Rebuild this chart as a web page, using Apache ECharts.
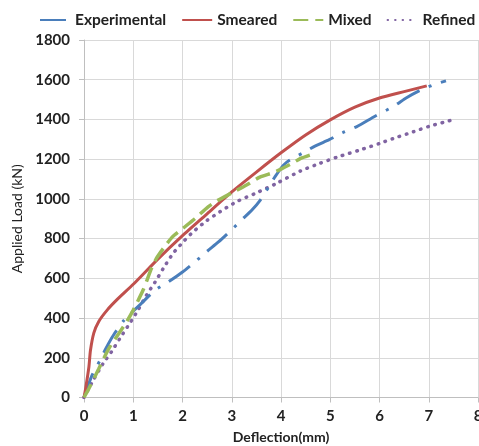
<!DOCTYPE html>
<html>
<head>
<meta charset="utf-8">
<script src="https://cdn.jsdelivr.net/npm/echarts@6/dist/echarts.min.js"></script>
<style>html,body{margin:0;padding:0;background:#fff}#c{width:479px;height:446px}</style>
</head>
<body>
<div id="c"></div>
<script>
const seriesNames = ['Experimental', 'Smeared', 'Mixed', 'Refined'];
const xTicks = [0, 1, 2, 3, 4, 5, 6, 7, 8];
const yTicks = [0, 200, 400, 600, 800, 1000, 1200, 1400, 1600, 1800];

const experimental = [[0,0],[0.16,110],[0.33,189],[0.45,250],[0.6,315],[0.8,385],[1.0,435],[1.17,475],[1.44,540],[1.72,583],[2.0,632],[2.26,684],[2.49,734],[2.73,783],[3.0,845],[3.2,894],[3.41,944],[3.58,994],[3.75,1060],[3.88,1112],[4.05,1170],[4.18,1196],[4.45,1232],[4.69,1266],[4.98,1298],[5.25,1333],[5.54,1364],[5.9,1415],[6.3,1468],[6.54,1508],[6.82,1546],[7.1,1575],[7.35,1594]];
const smeared = [[0,0],[0.03,40],[0.1,155],[0.13,235],[0.2,325],[0.3,383],[0.47,440],[0.68,495],[1.0,570],[1.5,697],[2.0,815],[2.5,925],[3.0,1035],[3.5,1135],[4.0,1232],[4.5,1322],[5.0,1398],[5.5,1462],[6.0,1508],[6.5,1540],[6.96,1569]];
const mixed = [[0,0],[0.1,45],[0.3,145],[0.5,245],[0.7,320],[0.85,375],[1.0,440],[1.2,541],[1.37,650],[1.47,700],[1.61,750],[1.8,810],[2.0,850],[2.25,900],[2.52,960],[2.7,990],[3.0,1030],[3.3,1070],[3.57,1110],[3.84,1132],[4.0,1150],[4.22,1178],[4.4,1204],[4.6,1222]];
const refined = [[0,0],[0.19,88],[0.39,172],[0.56,231],[0.73,298],[0.93,374],[1.1,441],[1.27,516],[1.44,580],[1.61,650],[1.81,726],[2.02,785],[2.22,835],[2.49,890],[2.76,935],[3.1,986],[3.5,1030],[3.91,1078],[4.39,1140],[4.79,1179],[5.16,1212],[5.6,1246],[6.01,1280],[6.35,1310],[6.69,1338],[7.03,1367],[7.43,1394]];

const colors = ['#4a7ebb', '#c0504d', '#9bbb59', '#8064a2'];
const dashes = [[26, 10, 3, 10], 'solid', [15, 7], [0.5, 7]];
const widths = [3, 3, 3.5, 3.5];
const dataSets = [experimental, smeared, mixed, refined];

const font = 'Lato, "Open Sans", sans-serif';
const chart = echarts.init(document.getElementById('c'), null, {renderer: 'canvas'});
chart.setOption({
  animation: false,
  backgroundColor: '#fff',
  grid: {left: 84, right: 1, top: 40, bottom: 48.5, containLabel: false, outerBoundsMode: 'none'},
  legend: {
    top: 12, left: 39, width: 440, padding: 0, itemWidth: 30, itemHeight: 12, itemGap: 15,
    itemStyle: {opacity: 0},
    textStyle: {fontFamily: font, fontWeight: 'bold', fontSize: 15.5, color: '#222'},
    data: seriesNames
  },
  xAxis: {
    type: 'value', min: xTicks[0], max: xTicks[xTicks.length - 1], interval: 1,
    name: 'Deflection(mm)', nameLocation: 'middle', nameGap: 33,
    nameTextStyle: {fontFamily: font, fontWeight: 'bold', fontSize: 14, color: '#222'},
    axisLine: {show: true, lineStyle: {color: '#bfbfbf', width: 1}},
    axisTick: {show: true, length: 5, lineStyle: {color: '#bfbfbf'}},
    axisLabel: {fontFamily: font, fontWeight: 'bold', fontSize: 15, color: '#222', margin: 11,
      formatter: v => String(v)},
    splitLine: {show: true, lineStyle: {color: '#d9d9d9', width: 1}}
  },
  yAxis: {
    type: 'value', min: yTicks[0], max: yTicks[yTicks.length - 1], interval: 200,
    name: 'Applied Load (kN)', nameLocation: 'middle', nameGap: 60, nameRotate: 90,
    nameTextStyle: {fontFamily: font, fontWeight: 'normal', fontSize: 14, color: '#222'},
    axisLine: {show: true, lineStyle: {color: '#bfbfbf', width: 1}},
    axisTick: {show: true, length: 5, lineStyle: {color: '#bfbfbf'}},
    axisLabel: {fontFamily: font, fontWeight: 'bold', fontSize: 15, color: '#222', margin: 14,
      formatter: v => String(v)},
    splitLine: {show: true, lineStyle: {color: '#d9d9d9', width: 1}}
  },
  series: seriesNames.map((n, i) => ({
    name: n, type: 'line', data: dataSets[i], showSymbol: false, symbol: 'none', smooth: 0.2,
    color: colors[i],
    lineStyle: {color: colors[i], width: widths[i], type: dashes[i], cap: i === 3 ? 'round' : 'butt'},
    z: [2, 3, 4, 1][i]
  }))
});
</script>
</body>
</html>
